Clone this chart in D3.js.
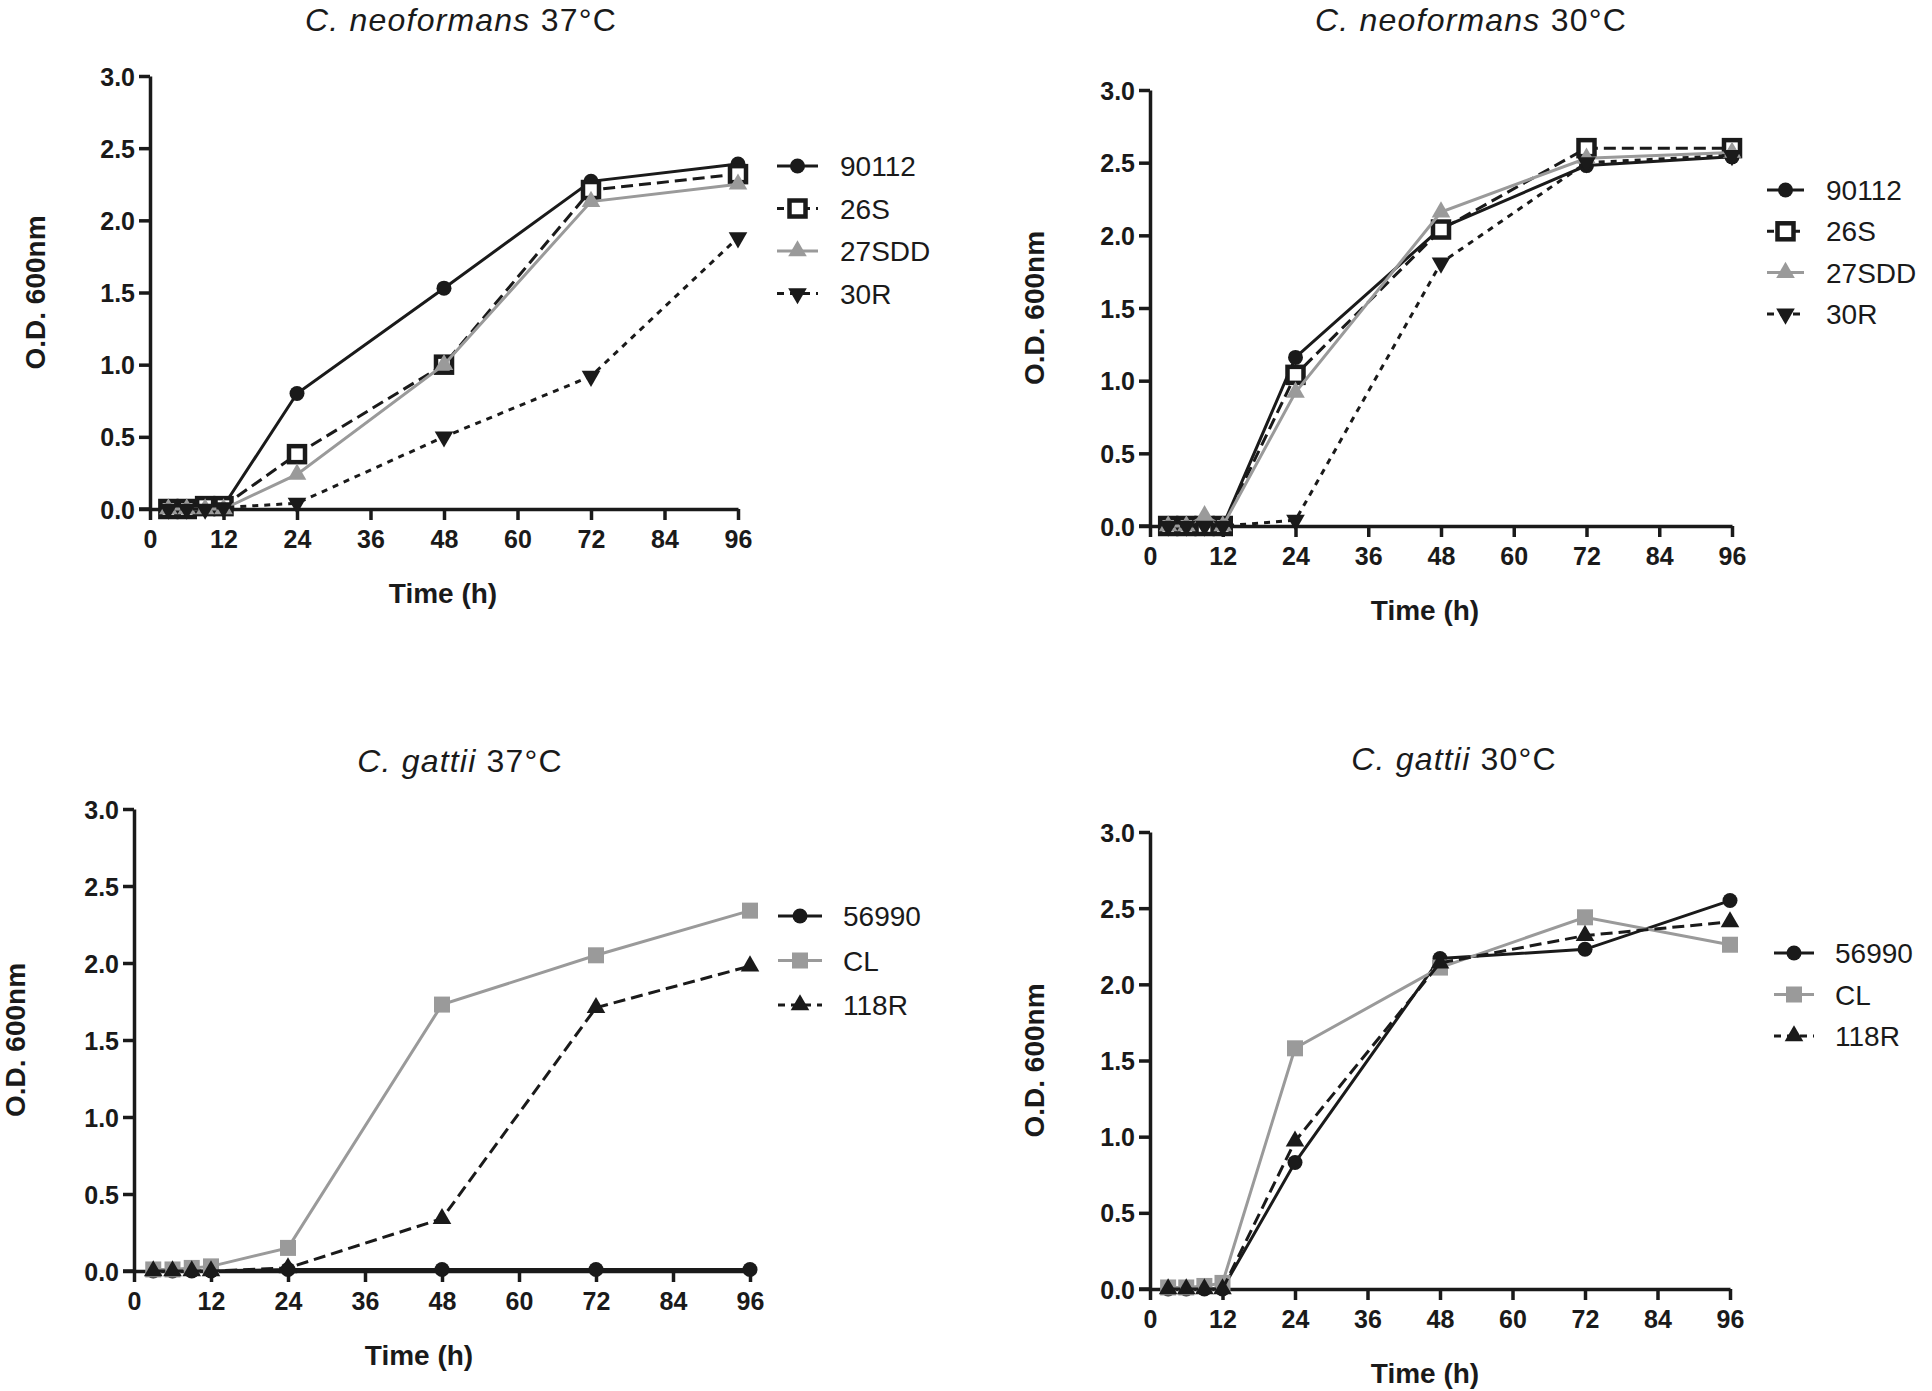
<!DOCTYPE html>
<html lang="en">
  <head>
    <meta charset="utf-8"/>
    <script src="https://d3js.org/d3.v7.min.js"></script>
    <style>
      body { margin: 0; background: #fff; }
      svg text { font-family: "Liberation Sans", Arial, sans-serif; fill: #1a1a1a; }
      .tick text { font-size: 25px; font-weight: bold; }
      .axis-title { font-size: 28px; font-weight: bold; }
      .panel-title { font-size: 32px; letter-spacing: 1.2px; }
      .legend text { font-size: 28px; }
    </style>
  </head>
  <body>
    <svg id="chart" width="1932" height="1391"></svg>
  </body>
  <script>
    // sampling times (h)
    const times = [3, 6, 9, 12, 24, 48, 72, 96];
    const xTicks = [0, 12, 24, 36, 48, 60, 72, 84, 96];
    const yTicks = [0, 0.5, 1.0, 1.5, 2.0, 2.5, 3.0];

    // C. neoformans 37°C
    const neo37_90112 = [0, 0, 0.02, 0.02, 0.80, 1.53, 2.27, 2.39];
    const neo37_26S   = [0, 0, 0.02, 0.02, 0.38, 1.00, 2.21, 2.32];
    const neo37_27SDD = [0, 0, 0, 0, 0.24, 1.00, 2.13, 2.25];
    const neo37_30R   = [0, 0, 0, 0.01, 0.04, 0.50, 0.92, 1.88];

    // C. neoformans 30°C
    const neo30_90112 = [0, 0, 0, 0, 1.16, 2.05, 2.48, 2.54];
    const neo30_26S   = [0, 0, 0, 0, 1.04, 2.04, 2.60, 2.60];
    const neo30_27SDD = [0, 0, 0.07, 0, 0.92, 2.16, 2.53, 2.57];
    const neo30_30R   = [0, 0, 0, 0, 0.04, 1.81, 2.50, 2.55];

    // C. gattii 37°C
    const gat37_56990 = [0, 0, 0, 0, 0.01, 0.01, 0.01, 0.01];
    const gat37_CL    = [0.01, 0.01, 0.02, 0.03, 0.15, 1.73, 2.05, 2.34];
    const gat37_118R  = [0, 0, 0, 0, 0.02, 0.34, 1.71, 1.98];

    // C. gattii 30°C
    const gat30_56990 = [0, 0, 0, 0, 0.83, 2.17, 2.23, 2.55];
    const gat30_CL    = [0.01, 0.01, 0.02, 0.04, 1.58, 2.11, 2.44, 2.26];
    const gat30_118R  = [0, 0, 0, 0, 0.97, 2.14, 2.32, 2.41];

    const BLACK = "#1a1a1a", GREY = "#9a9a9a";

    // series styles
    const styles = {
      "90112": { color: BLACK, dash: null,   symbol: "circle" },
      "26S":   { color: BLACK, dash: "12,6", symbol: "openSquare" },
      "27SDD": { color: GREY,  dash: null,   symbol: "triangle" },
      "30R":   { color: BLACK, dash: "6,6",  symbol: "triangleDown" },
      "56990": { color: BLACK, dash: null,   symbol: "circle" },
      "CL":    { color: GREY,  dash: null,   symbol: "square" },
      "118R":  { color: BLACK, dash: "12,6", symbol: "triangle" }
    };

    const panels = [
      { species: "C. neoformans", temp: "37°C",
        box: { left: 150, right: 738, bottom: 509, top: 76 },
        titleX: 461, titleY: 31, xLabelX: 443, yLabelX: 35,
        legend: { x1: 777, x2: 818, tx: 840, y: 166, step: 42.5 },
        series: [["90112", neo37_90112], ["26S", neo37_26S], ["27SDD", neo37_27SDD], ["30R", neo37_30R]] },
      { species: "C. neoformans", temp: "30°C",
        box: { left: 1150, right: 1732, bottom: 526, top: 90 },
        titleX: 1471, titleY: 31, xLabelX: 1425, yLabelX: 1034,
        legend: { x1: 1767, x2: 1804, tx: 1826, y: 190, step: 41.3 },
        series: [["90112", neo30_90112], ["26S", neo30_26S], ["27SDD", neo30_27SDD], ["30R", neo30_30R]] },
      { species: "C. gattii", temp: "37°C",
        box: { left: 134, right: 750, bottom: 1271, top: 809 },
        titleX: 460, titleY: 772, xLabelX: 419, yLabelX: 15,
        legend: { x1: 778, x2: 822, tx: 843, y: 916, step: 44.5 },
        series: [["56990", gat37_56990], ["CL", gat37_CL], ["118R", gat37_118R]] },
      { species: "C. gattii", temp: "30°C",
        box: { left: 1150, right: 1730, bottom: 1289, top: 832 },
        titleX: 1454, titleY: 770, xLabelX: 1425, yLabelX: 1034,
        legend: { x1: 1774, x2: 1814, tx: 1835, y: 953, step: 41.5 },
        series: [["56990", gat30_56990], ["CL", gat30_CL], ["118R", gat30_118R]] }
    ];

    const svg = d3.select("#chart");
    svg.append("rect").attr("width", 1932).attr("height", 1391).attr("fill", "#fff");

    function drawMarker(g, kind, color) {
      if (kind === "circle") {
        g.append("circle").attr("r", 7.5).attr("fill", color);
      } else if (kind === "square") {
        g.append("rect").attr("x", -8).attr("y", -8).attr("width", 16).attr("height", 16).attr("fill", color);
      } else if (kind === "openSquare") {
        g.append("rect").attr("x", -8).attr("y", -8).attr("width", 16).attr("height", 16)
          .attr("fill", "#fff").attr("stroke", color).attr("stroke-width", 4.5);
      } else {
        const path = d3.symbol().type(d3.symbolTriangle).size(150)();
        g.append("path").attr("d", path).attr("fill", color)
          .attr("transform", kind === "triangleDown" ? "rotate(180)" : null);
      }
    }

    panels.forEach(function(p) {
      const b = p.box;
      const x = d3.scaleLinear().domain([0, 96]).range([b.left, b.right]);
      const y = d3.scaleLinear().domain([0, 3]).range([b.bottom, b.top]);
      const g = svg.append("g");

      // title
      const t = g.append("text").attr("class", "panel-title")
        .attr("x", p.titleX).attr("y", p.titleY).attr("text-anchor", "middle");
      t.append("tspan").attr("font-style", "italic").text(p.species);
      t.append("tspan").text(" " + p.temp);

      // axes
      const xAxis = g.append("g").attr("transform", "translate(0," + b.bottom + ")")
        .call(d3.axisBottom(x).tickValues(xTicks).tickSize(11).tickPadding(10).tickSizeOuter(0));
      const yAxis = g.append("g").attr("transform", "translate(" + b.left + ",0)")
        .call(d3.axisLeft(y).tickValues(yTicks).tickFormat(d3.format(".1f")).tickSize(11).tickPadding(4).tickSizeOuter(0));
      [xAxis, yAxis].forEach(function(a) {
        a.select(".domain").attr("stroke", BLACK).attr("stroke-width", 3.5);
        a.selectAll(".tick line").attr("stroke", BLACK).attr("stroke-width", 3.5);
        a.selectAll(".tick text").attr("fill", BLACK);
      });
      yAxis.selectAll(".tick text").attr("dy", "0.36em");
      // x-axis line reaches the 0.0 tick on the left
      g.append("line").attr("x1", b.left - 11).attr("x2", b.left)
        .attr("y1", b.bottom).attr("y2", b.bottom).attr("stroke", BLACK).attr("stroke-width", 3.5);

      // axis titles
      g.append("text").attr("class", "axis-title").attr("text-anchor", "middle")
        .attr("x", p.xLabelX).attr("y", b.bottom + 94).text("Time (h)");
      g.append("text").attr("class", "axis-title").attr("text-anchor", "middle")
        .attr("transform", "translate(" + p.yLabelX + "," + ((b.top + b.bottom) / 2) + ") rotate(-90)")
        .attr("dy", "0.36em").text("O.D.  600nm");

      // series
      const line = d3.line().x(function(d) { return x(d[0]); }).y(function(d) { return y(d[1]); });
      p.series.forEach(function(s) {
        const st = styles[s[0]];
        const pts = times.map(function(tm, i) { return [tm, s[1][i]]; });
        g.append("path").datum(pts).attr("d", line)
          .attr("fill", "none").attr("stroke", st.color).attr("stroke-width", 3)
          .attr("stroke-dasharray", st.dash);
        pts.forEach(function(d) {
          drawMarker(g.append("g").attr("transform", "translate(" + x(d[0]) + "," + y(d[1]) + ")"), st.symbol, st.color);
        });
      });

      // legend
      const lg = g.append("g").attr("class", "legend");
      p.series.forEach(function(s, i) {
        const st = styles[s[0]];
        const ly = p.legend.y + i * p.legend.step;
        lg.append("line").attr("x1", p.legend.x1).attr("x2", p.legend.x2).attr("y1", ly).attr("y2", ly)
          .attr("stroke", st.color).attr("stroke-width", 3).attr("stroke-dasharray", st.dash ? "7,6" : null);
        drawMarker(lg.append("g").attr("transform", "translate(" + ((p.legend.x1 + p.legend.x2) / 2) + "," + ly + ")"), st.symbol, st.color);
        lg.append("text").attr("x", p.legend.tx).attr("y", ly).attr("dy", "0.36em").text(s[0]);
      });
    });
  </script>
</html>
